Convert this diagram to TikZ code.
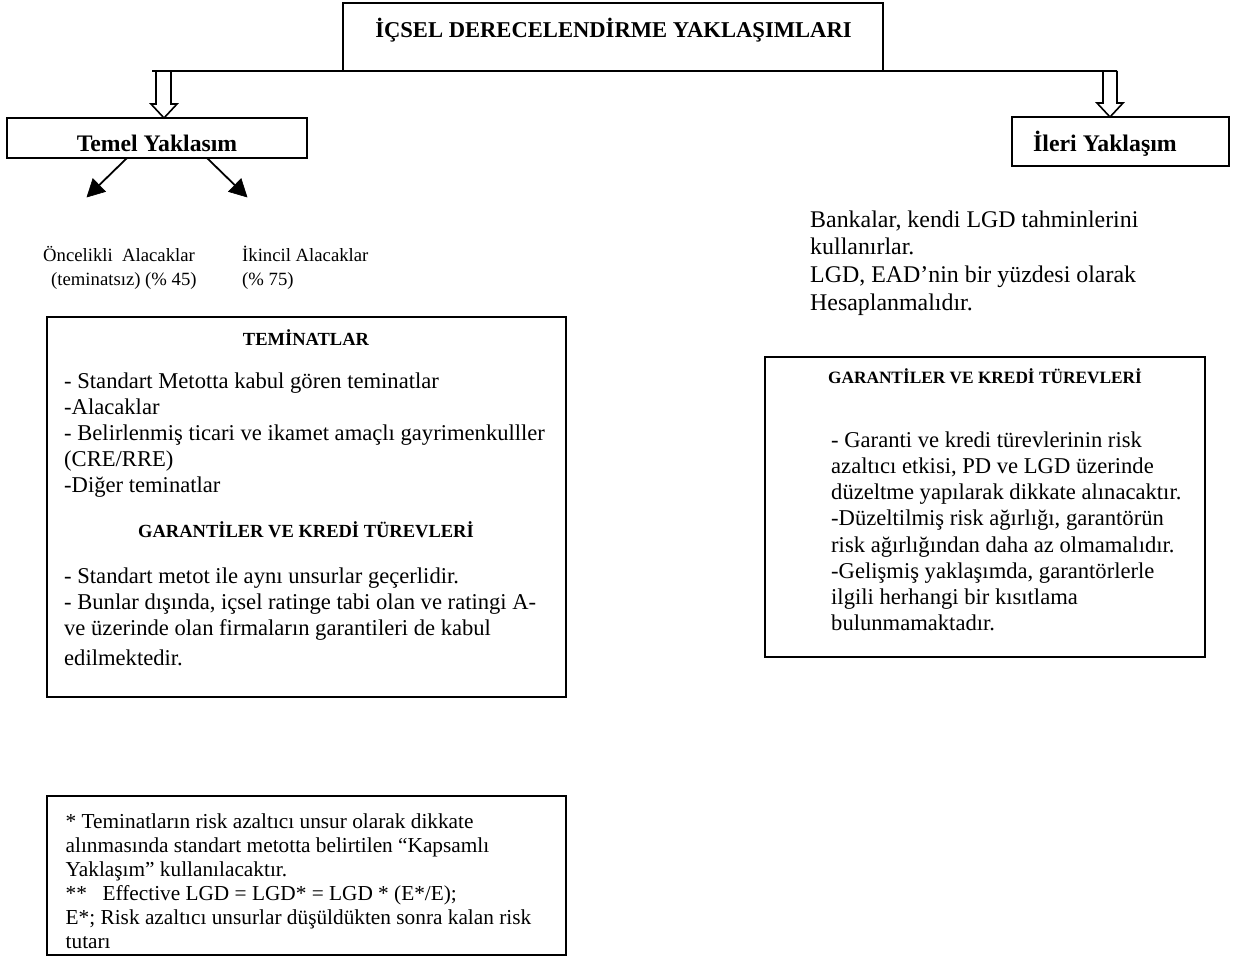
\documentclass[tikz,border=0pt]{standalone}
\usepackage{fontspec}
\setmainfont{Liberation Serif}
\usetikzlibrary{calc}

\tikzset{
  frame/.style={draw, line width=2bp, inner sep=0pt, outer sep=0pt, anchor=north west},
  hollow/.style={draw, line width=1.6bp, line join=miter},
  joinline/.style={line width=1.8bp},
  branch line/.style={line width=1.8bp},
  branch head/.style={fill=black, draw=black, line width=0.6bp, line join=miter},
  lbl/.style={inner sep=0pt},
  body/.style={inner sep=0pt, anchor=north west, align=left,
    font=\fontsize{22.6bp}{26bp}\selectfont},
}

\begin{document}
\begin{tikzpicture}[x=1bp, y=-1bp]
  \fill[white] (0,0) rectangle (1236,960);
  \useasboundingbox (0,0) rectangle (1236,960);

  % --- frames ---
  \node[frame, minimum width=540bp, minimum height=68bp] (title) at (343,3) {};
  \node[frame, minimum width=300bp, minimum height=40bp] (temel) at (7,118) {};
  \node[frame, minimum width=217bp, minimum height=49bp] (ileri) at (1012,117) {};
  \node[frame, minimum width=519bp, minimum height=380bp] (teminat) at (47,317) {};
  \node[frame, minimum width=440bp, minimum height=300bp] (garanti) at (765,357) {};
  \node[frame, minimum width=519bp, minimum height=159bp] (note) at (47,796) {};

  % --- titles ---
  \node[lbl, anchor=base, font=\bfseries\fontsize{22.6bp}{27bp}\selectfont] (titletext)
    at (613.5,37.5) {İÇSEL DERECELENDİRME YAKLAŞIMLARI};
  \node[lbl, anchor=base, font=\bfseries\fontsize{23.7bp}{28bp}\selectfont] (temeltext)
    at (157,151) {Temel Yaklasım};
  \node[lbl, anchor=base west, font=\bfseries\fontsize{23.8bp}{28bp}\selectfont] (ileritext)
    at (1033,151) {İleri Yaklaşım};

  % --- split line and hollow arrows ---
  \coordinate (jl) at (152,71);
  \coordinate (jr) at (1117,71);
  \draw[joinline] (jl) -- (title.south west);
  \draw[joinline] (title.south east) -- (jr);

  \coordinate (ltip) at (164,118);
  \draw[hollow] (156,71) -- (156,104) -- (151,104) -- (ltip) -- (177,104) -- (171,104) -- (171,71);
  \coordinate (rtip) at (1110,117);
  \draw[hollow] (1103,71) -- (1103,103) -- (1097,103) -- (rtip) -- (1123,103) -- (1117,103) -- (1117,71);

  % --- branches of the basic approach (line plus solid triangular head) ---
  \coordinate (s1) at (127,158);
  \coordinate (t1) at (87,197);
  \coordinate (s2) at (207,158);
  \coordinate (t2) at (247,197);
  \coordinate (b1) at ($(t1)!17bp!(s1)$);
  \coordinate (b2) at ($(t2)!17bp!(s2)$);
  \draw[branch line] (s1) -- (b1);
  \draw[branch line] (s2) -- (b2);
  \filldraw[branch head] (t1) -- ($(b1)!9bp!90:(t1)$) -- ($(b1)!9bp!-90:(t1)$) -- cycle;
  \filldraw[branch head] (t2) -- ($(b2)!9bp!90:(t2)$) -- ($(b2)!9bp!-90:(t2)$) -- cycle;

  \node[body, font=\fontsize{18.7bp}{24bp}\selectfont] (oncelikli) at (43,244.2)
    {\strut Öncelikli\ \ Alacaklar\\ \hspace*{8bp}(teminatsız) (\% 45)};
  \node[body, font=\fontsize{18.7bp}{24bp}\selectfont] (ikincil) at (242,244.2)
    {\strut İkincil Alacaklar\\(\% 75)};

  % --- advanced approach text ---
  \node[body, font=\fontsize{23.9bp}{27.7bp}\selectfont] (banka) at (810,207.6)
    {\strut Bankalar, kendi LGD tahminlerini\\kullanırlar.\\LGD, EAD’nin bir yüzdesi olarak\\Hesaplanmalıdır.};

  % --- collateral frame ---
  \node[lbl, anchor=base, font=\bfseries\fontsize{18.5bp}{22bp}\selectfont] (teminathead)
    at (306,345) {TEMİNATLAR};
  \node[body] (teminatbody) at (64,369.8)
    {\strut - Standart Metotta kabul gören teminatlar\\-Alacaklar\\- Belirlenmiş ticari ve ikamet amaçlı gayrimenkulller\\(CRE/RRE)\\-Diğer teminatlar};
  \node[lbl, anchor=base, font=\bfseries\fontsize{18.5bp}{22bp}\selectfont] (garhead1)
    at (306,537) {GARANTİLER VE KREDİ TÜREVLERİ};
  \node[body] (garbody1) at (64,564.8)
    {\strut - Standart metot ile aynı unsurlar geçerlidir.\\- Bunlar dışında, içsel ratinge tabi olan ve ratingi A-\\ve üzerinde olan firmaların garantileri de kabul\\[4bp]edilmektedir.};

  % --- guarantees frame of the advanced approach ---
  \node[lbl, anchor=base, font=\bfseries\fontsize{17.3bp}{21bp}\selectfont] (garhead2)
    at (985,383) {GARANTİLER VE KREDİ TÜREVLERİ};
  \node[body, font=\fontsize{22.6bp}{26.2bp}\selectfont] (garbody2) at (831,428.7)
    {\strut - Garanti ve kredi türevlerinin risk\\azaltıcı etkisi, PD ve LGD üzerinde\\düzeltme yapılarak dikkate alınacaktır.\\-Düzeltilmiş risk ağırlığı, garantörün\\risk ağırlığından daha az olmamalıdır.\\-Gelişmiş yaklaşımda, garantörlerle\\ilgili herhangi bir kısıtlama\\bulunmamaktadır.};

  % --- footnote frame ---
  \node[body, font=\fontsize{21.3bp}{24bp}\selectfont] (notebody) at (65.5,811.2)
    {\strut * Teminatların risk azaltıcı unsur olarak dikkate\\alınmasında standart metotta belirtilen “Kapsamlı\\Yaklaşım” kullanılacaktır.\\**\hspace{15.6bp}Effective LGD = LGD* = LGD * (E*/E);\\E*; Risk azaltıcı unsurlar düşüldükten sonra kalan risk\\tutarı};
\end{tikzpicture}
\end{document}
